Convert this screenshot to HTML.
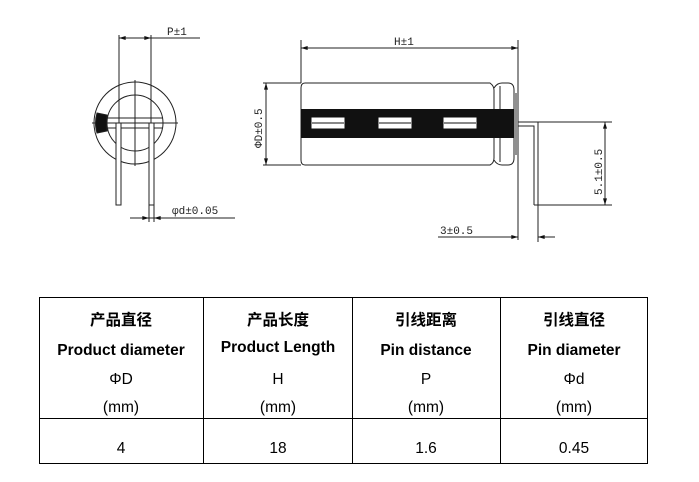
<!DOCTYPE html>
<html><head><meta charset="utf-8"><style>
html,body{margin:0;padding:0;background:#fff;width:699px;height:482px;overflow:hidden}
svg{display:block}
.t{font-family:"Liberation Mono",monospace;font-size:11px;fill:#222}
.c{font-family:"Liberation Sans","Noto Sans CJK SC",sans-serif;font-size:15.5px;fill:#000;text-anchor:middle}
.b{font-weight:bold}
</style></head><body>
<svg width="699" height="482" viewBox="0 0 699 482">
<defs><marker id="a" viewBox="0 0 10 6" refX="10" refY="3" markerWidth="8" markerHeight="4" orient="auto-start-reverse"><path d="M0,0L10,3L0,6z" fill="#111"/></marker></defs>
<g stroke="#222" stroke-width="1" fill="none">
<circle cx="135" cy="123" r="41"/>
<circle cx="135" cy="123" r="28"/>
<line x1="135" y1="80" x2="135" y2="166"/>
<line x1="92" y1="123" x2="178" y2="123"/>
<line x1="96" y1="118" x2="163" y2="118"/>
<line x1="96" y1="128" x2="163" y2="128"/>
<path d="M97,113 L107,115 L107,131 L97,133 Q94,123 97,113z" fill="#111"/>
<rect x="116" y="123" width="5" height="82" fill="#fff"/>
<rect x="149" y="123" width="5" height="82" fill="#fff"/>
<line x1="119" y1="35" x2="119" y2="123"/>
<line x1="151" y1="35" x2="151" y2="123"/>
<line x1="119" y1="38" x2="200" y2="38"/>
<line x1="131" y1="38" x2="119" y2="38" marker-end="url(#a)"/>
<line x1="140" y1="38" x2="151" y2="38" marker-end="url(#a)"/>
<line x1="149" y1="205" x2="149" y2="222"/>
<line x1="154" y1="205" x2="154" y2="222"/>
<line x1="130" y1="218" x2="235" y2="218"/>
<line x1="138" y1="218" x2="149" y2="218" marker-end="url(#a)"/>
<line x1="165" y1="218" x2="154" y2="218" marker-end="url(#a)"/>
<line x1="301" y1="40" x2="301" y2="83"/>
<line x1="518" y1="40" x2="518" y2="240"/>
<line x1="301" y1="48" x2="518" y2="48" marker-start="url(#a)" marker-end="url(#a)"/>
<path d="M305,83 L490,83 Q494,86 494,90 L494,158 Q494,163 490,165 L305,165 Q301,165 301,160 L301,88 Q301,83 305,83z"/>
<path d="M494,88 Q497,83 502,83 L508,83 Q514,83 514,90 L514,158 Q514,165 508,165 L502,165 Q497,165 494,160"/>
<line x1="500" y1="86" x2="500" y2="162"/>
<line x1="516" y1="93" x2="516" y2="155"/>
<line x1="263" y1="83" x2="301" y2="83"/>
<line x1="263" y1="165" x2="301" y2="165"/>
<line x1="266" y1="83" x2="266" y2="165" marker-start="url(#a)" marker-end="url(#a)"/>
<line x1="518" y1="122" x2="612" y2="122"/>
<path d="M518,126 L534,126 L534,205"/>
<line x1="538" y1="122" x2="538" y2="205"/>
<line x1="534" y1="205" x2="612" y2="205"/>
<line x1="605" y1="122" x2="605" y2="205" marker-start="url(#a)" marker-end="url(#a)"/>
<line x1="538" y1="205" x2="538" y2="242"/>
<line x1="438" y1="237" x2="518" y2="237" marker-end="url(#a)"/>
<line x1="555" y1="237" x2="538" y2="237" marker-end="url(#a)"/>
</g>
<rect x="301" y="109" width="213" height="29" fill="#111"/>
<g fill="#fff" stroke="#111" stroke-width="1">
<rect x="311" y="117" width="34" height="12"/><rect x="378" y="117" width="34" height="12"/><rect x="443" y="117" width="34" height="12"/>
</g>
<g stroke="#111" stroke-width="1"><line x1="312" y1="123" x2="344" y2="123"/><line x1="379" y1="123" x2="411" y2="123"/><line x1="444" y1="123" x2="476" y2="123"/></g>
<text class="t" x="167" y="35">P±1</text>
<text class="t" x="172" y="214">φd±0.05</text>
<text class="t" x="394" y="45">H±1</text>
<text class="t" x="440" y="234">3±0.5</text>
<text class="t" transform="translate(262,148) rotate(-90)">ΦD±0.5</text>
<text class="t" transform="translate(602,195) rotate(-90)">5.1±0.5</text>
<g stroke="#000" stroke-width="1" fill="none">
<rect x="39.5" y="297.5" width="608" height="166"/>
<line x1="39" y1="418.5" x2="648" y2="418.5"/>
<line x1="203.5" y1="297" x2="203.5" y2="464"/>
<line x1="352.5" y1="297" x2="352.5" y2="464"/>
<line x1="500.5" y1="297" x2="500.5" y2="464"/>
</g>
<g class="c">
<text class="c b" x="121" y="325">产品直径</text>
<text class="c b" x="121" y="355">Product diameter</text>
<text class="c" x="121" y="384">ΦD</text>
<text class="c" x="121" y="412">(mm)</text>
<text class="c" x="121" y="453">4</text>
<text class="c b" x="278" y="325">产品长度</text>
<text class="c b" x="278" y="352">Product  Length</text>
<text class="c" x="278" y="384">H</text>
<text class="c" x="278" y="412">(mm)</text>
<text class="c" x="278" y="453">18</text>
<text class="c b" x="426" y="325">引线距离</text>
<text class="c b" x="426" y="355">Pin distance</text>
<text class="c" x="426" y="384">P</text>
<text class="c" x="426" y="412">(mm)</text>
<text class="c" x="426" y="453">1.6</text>
<text class="c b" x="574" y="325">引线直径</text>
<text class="c b" x="574" y="355">Pin diameter</text>
<text class="c" x="574" y="384">Φd</text>
<text class="c" x="574" y="412">(mm)</text>
<text class="c" x="574" y="453">0.45</text>
</g>
</svg>
</body></html>
